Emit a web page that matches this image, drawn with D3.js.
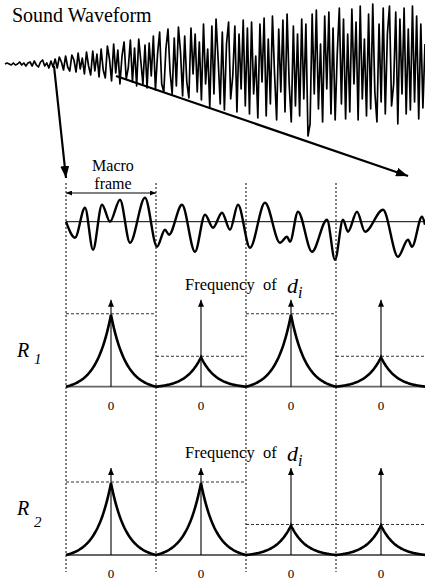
<!DOCTYPE html>
<html><head><meta charset="utf-8">
<script src="https://cdn.jsdelivr.net/npm/d3@7"></script>
<style>html,body{margin:0;padding:0;background:#fff}svg{display:block}
text{font-family:"Liberation Serif","DejaVu Serif","Noto Serif",serif}</style>
</head><body>
<svg id="c" width="425" height="584"></svg>
<script>
// ---- data ----
const soundWave = [
 0,1,0,-1,1,-1,0,2,-1,1,-2,1,2,-2,3,-1,-3,2,4,-2,1,-4,3,-3,
 5,-4,7,2,-6,8,-3,-7,9,4,-8,11,-5,6,-10,12,-2,-11,13,-7,10,-13,
 15,-6,-14,18,5,-17,20,-9,14,-20,8,22,-15,-4,24,-18,16,-22,25,3,-20,19,-24,21,
 -12,28,-26,10,32,-20,-28,15,35,-8,-30,26,-22,37,12,-32,28,-18,-34,36,-10,30,-28,22,
 -36,40,-20,15,-44,38,-30,45,5,-40,32,-46,20,42,-35,-12,38,-48,30,-25,44,-42,36,-50,
 42,-30,8,-54,40,-18,46,-52,25,-40,48,-10,-56,35,-28,44,-48,50,-20,-58,38,-42,30,-52,
 45,-35,40,-72,-60,50,-30,54,-45,20,-58,48,-25,52,-50,36,-56,10,56,-40,45,-55,30,-48,
 55,-20,42,-56,58,-35,25,-52,50,-45,60,-28,-58,40,-38,56,-50,30,58,-42,-20,52,-60,45,-30,56,-50,35,-46,58,-38,48,-55,40,-44,20
];
const frameWaveT = [0,9,19,27,36,44,54,64,79,91,99,103,116,129,139,147,156,164,172,184,199,214,221,224,232,246,261,269,277,282,291,299,317,332,342,346,356,359];
const frameWaveA = [0,-16,14,-28,17,0,22,-21,24,-25,-8,-13,17,-30,7,-6,9,-8,17,-26,19,-21,-15,-20,10,-30,2,-38,2,-10,10,-10,12,-35,-18,-25,5,-3];
const frames = [0,1,2,3];
const r1Peaks = [1.0, 0.41, 1.0, 0.41];
const r2Peaks = [1.0, 1.0, 0.41, 0.41];
const zeroLabels = ["0","0","0","0"];
const laplaceScale = 1/3; // decay of each peak, in frame half-widths

// ---- drawing ----
const svg = d3.select("#c");
svg.append("rect").attr("width",425).attr("height",584).attr("fill","#fff");
const defs = svg.append("defs");
function marker(id, w, h){
  defs.append("marker").attr("id",id).attr("viewBox",`0 0 ${w} ${h}`)
    .attr("refX",w).attr("refY",h/2).attr("markerWidth",w).attr("markerHeight",h)
    .attr("markerUnits","userSpaceOnUse").attr("orient","auto-start-reverse")
    .append("path").attr("d",`M0,0L${w},${h/2}L0,${h}Z`).attr("fill","#000");
}
marker("big",12,9); marker("small",7,6); marker("tiny",6,5);

// title
svg.append("text").attr("x",12).attr("y",22).attr("font-size",20).text("Sound Waveform");

// sound waveform
const xs = d3.scaleLinear().domain([0, soundWave.length-1]).range([5,425]);
const ys = d3.scaleLinear().domain([-60,60]).range([124,4]);
svg.append("path").datum(soundWave)
  .attr("d", d3.line().x((d,i)=>xs(i)).y(d=>ys(d)))
  .attr("fill","none").attr("stroke","#000").attr("stroke-width",1.7).attr("stroke-linejoin","round");

// zoom arrows
svg.append("line").attr("x1",54).attr("y1",66).attr("x2",66).attr("y2",178)
  .attr("stroke","#000").attr("stroke-width",2.2).attr("marker-end","url(#big)");
svg.append("line").attr("x1",116).attr("y1",76).attr("x2",408).attr("y2",176)
  .attr("stroke","#000").attr("stroke-width",2.2).attr("marker-end","url(#big)");

// frame x scale
const fx = d3.scaleLinear().domain([0,4]).range([66,426]);

// vertical dotted frame separators
svg.append("g").selectAll("line").data(frames).join("line")
  .attr("x1",d=>fx(d)).attr("x2",d=>fx(d)).attr("y1",183).attr("y2",572)
  .attr("stroke","#000").attr("stroke-width",1).attr("stroke-dasharray","2,2");

// Macro frame label
svg.append("text").attr("x",113).attr("y",171).attr("text-anchor","middle").attr("font-size",16).text("Macro");
svg.append("text").attr("x",113).attr("y",189).attr("text-anchor","middle").attr("font-size",16).text("frame");
svg.append("line").attr("x1",fx(0)).attr("x2",fx(1)).attr("y1",193).attr("y2",193)
  .attr("stroke","#000").attr("stroke-width",1).attr("marker-end","url(#tiny)").attr("marker-start","url(#tiny)");

// frame waveform
const wx = d3.scaleLinear().domain([0,359]).range([66,425]);
const wy = d3.scaleLinear().domain([-30,30]).range([251.7,191.7]);
svg.append("line").attr("x1",66).attr("x2",425).attr("y1",wy(0)).attr("y2",wy(0)).attr("stroke","#000").attr("stroke-width",1);
svg.append("path").datum(frameWaveT.map((t,i)=>[t,frameWaveA[i]]))
  .attr("d", d3.line().x(d=>wx(d[0])).y(d=>wy(d[1])).curve(d3.curveMonotoneX))
  .attr("fill","none").attr("stroke","#000").attr("stroke-width",2.4);

// spectrum panels
function panel(peaks, base, labelY, subY, sub){
  const py = d3.scaleLinear().domain([0,1]).range([base, base-72]);
  const edge = Math.exp(-1/laplaceScale);
  const fs = d3.range(-1,1.0001,0.02);
  svg.append("line").attr("x1",66).attr("x2",425).attr("y1",base).attr("y2",base).attr("stroke","#666").attr("stroke-width",1.8);
  frames.forEach((k)=>{
    const lx = d3.scaleLinear().domain([-1,1]).range([fx(k), fx(k+1)]);
    const h = peaks[k];
    svg.append("line").attr("x1",fx(k)).attr("x2",Math.min(fx(k+1),425)).attr("y1",py(h)-1).attr("y2",py(h)-1)
      .attr("stroke","#333").attr("stroke-width",1.1).attr("stroke-dasharray","3,2");
    svg.append("path").datum(fs)
      .attr("d", d3.line().x(f=>lx(f)).y(f=>py(h*(Math.exp(-Math.abs(f)/laplaceScale)-edge)/(1-edge))))
      .attr("fill","none").attr("stroke","#000").attr("stroke-width",2.6);
    svg.append("line").attr("x1",lx(0)).attr("x2",lx(0)).attr("y1",base).attr("y2",base-87)
      .attr("stroke","#000").attr("stroke-width",1.1).attr("marker-end","url(#small)");
    svg.append("text").attr("x",lx(0)).attr("y",base+23).attr("text-anchor","middle")
      .attr("font-size",13).text(zeroLabels[k]);
  });
  const t = svg.append("text").attr("x",185).attr("y",base-97).attr("font-size",16.5);
  t.append("tspan").text("Frequency\u00a0 of ");
  t.append("tspan").attr("font-style","italic").attr("font-size",22).attr("x",287).attr("y",base-94).text("d");
  t.append("tspan").attr("font-style","italic").attr("font-size",16).attr("dy",5).text("i");
  const r = svg.append("text").attr("x",17).attr("y",labelY).attr("font-style","italic").attr("font-size",20);
  r.append("tspan").text("R");
  r.append("tspan").attr("font-size",15).attr("x",34).attr("y",subY).text(sub);
}
panel(r1Peaks, 386.7, 357, 364, "1");
panel(r2Peaks, 555, 515, 527, "2");
</script>
</body></html>
